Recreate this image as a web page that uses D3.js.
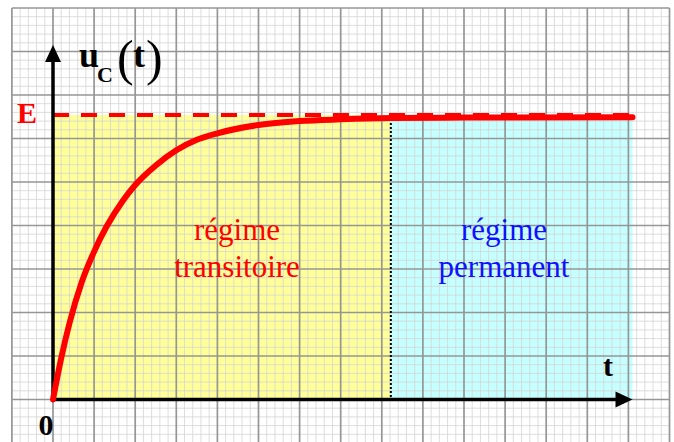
<!DOCTYPE html>
<html>
<head>
<meta charset="utf-8">
<script src="https://cdn.jsdelivr.net/npm/d3@7"></script>
<style>
  body { margin: 0; background: #fff; }
  svg { display: block; }
  text { font-family: "Liberation Serif", "DejaVu Serif", serif; }
</style>
</head>
<body>
<div id="chart"></div>
<script>
/*********************************
   CAPACITOR CHARGE u_C(t) DATA
 *********************************/

// Curve Samples (t & u in major grid divisions)
let timeValues = [0, 0.2, 0.4, 0.7, 1.0, 1.3, 1.7, 2.0, 2.5, 3.0, 3.5, 4.0, 5.0, 6.0, 7.0, 8.22, 10.0, 14.1];
let ucValues   = [0, 0.95, 1.75, 2.7, 3.4, 3.97, 4.57, 4.93, 5.38, 5.73, 5.97, 6.12, 6.31, 6.40, 6.44, 6.47, 6.48, 6.49];

// Levels & Limits (grid divisions)
let eLevel = 6.54;
let splitTime = 8.22, endTime = 14.1;
let yArrowTop = 8.15;

// Region Labels
let regionNames = ["transitoire", "permanent"];
let regionColors = ["#ff0000", "#1010ff"];

/*********************************
   DRAW CHART
 *********************************/

let w = 674, h = 442;
let svg = d3.select("#chart").append("svg").attr("width", w).attr("height", h);

// Scales (one unit = one major grid square)
let x = d3.scaleLinear().domain([-1, 15]).range([11.9, 669.5]);
let y = d3.scaleLinear().domain([0, 9]).range([399.5, 8]);
let gridLeft = x(-1), gridRight = x(15), gridTop = y(9), gridBottom = h;

// Background Regions
svg.append("rect").attr("x", x(0)).attr("y", y(eLevel)).attr("width", x(splitTime) - x(0)).attr("height", y(0) - y(eLevel)).style("fill", "#ffff99");
svg.append("rect").attr("x", x(splitTime)).attr("y", y(eLevel)).attr("width", x(endTime) - x(splitTime)).attr("height", y(0) - y(eLevel)).style("fill", "#c6ffff");

// Graph Paper Grid
let minorX = d3.range(-5, 76).map((d) => d / 5), minorY = d3.range(-5, 46).map((d) => d / 5);
let grid = svg.append("g");
grid.selectAll("line.vminor").data(minorX.filter((d) => Math.round(d * 5) % 5 != 0)).enter().append("line")
  .attr("x1", (d) => x(d)).attr("x2", (d) => x(d)).attr("y1", gridTop).attr("y2", gridBottom)
  .style("stroke", "#d4d4d4").style("stroke-width", 0.8);
grid.selectAll("line.hminor").data(minorY.filter((d) => Math.round(d * 5) % 5 != 0)).enter().append("line")
  .attr("x1", gridLeft).attr("x2", gridRight).attr("y1", (d) => y(d)).attr("y2", (d) => y(d))
  .style("stroke", "#d4d4d4").style("stroke-width", 0.8);
grid.selectAll("line.vmajor").data(d3.range(-1, 16)).enter().append("line")
  .attr("x1", (d) => x(d)).attr("x2", (d) => x(d)).attr("y1", gridTop).attr("y2", gridBottom)
  .style("stroke", "#969696").style("stroke-width", 1.7);
grid.selectAll("line.hmajor").data(d3.range(-1, 10)).enter().append("line")
  .attr("x1", gridLeft).attr("x2", gridRight).attr("y1", (d) => y(d)).attr("y2", (d) => y(d))
  .style("stroke", "#969696").style("stroke-width", 1.7);

// Dotted Split Between Regimes
svg.append("line").attr("x1", x(splitTime)).attr("x2", x(splitTime)).attr("y1", y(eLevel)).attr("y2", y(0))
  .style("stroke", "#000").style("stroke-width", 2).style("stroke-dasharray", "2,2");

// Asymptote E (dashed)
svg.append("line").attr("x1", x(0)).attr("x2", x(endTime)).attr("y1", y(eLevel)).attr("y2", y(eLevel))
  .style("stroke", "#ff0000").style("stroke-width", 4).style("stroke-dasharray", "16,12");

// Axes With Arrow Heads
svg.append("line").attr("x1", x(0)).attr("x2", x(0)).attr("y1", y(0) + 1.5).attr("y2", y(yArrowTop) + 12)
  .style("stroke", "#000").style("stroke-width", 3.5);
svg.append("line").attr("x1", x(0) - 1.5).attr("x2", x(endTime) - 12).attr("y1", y(0)).attr("y2", y(0))
  .style("stroke", "#000").style("stroke-width", 3.5);
let ax = x(0), ay = y(yArrowTop);
svg.append("path").attr("d", "M" + ax + "," + ay + "L" + (ax - 8) + "," + (ay + 17) + "L" + (ax + 8) + "," + (ay + 17) + "Z").style("fill", "#000");
let bx = x(endTime), by = y(0);
svg.append("path").attr("d", "M" + bx + "," + by + "L" + (bx - 17) + "," + (by - 8) + "L" + (bx - 17) + "," + (by + 8) + "Z").style("fill", "#000");

// Charging Curve
let line = d3.line().x((d, i) => x(timeValues[i])).y((d) => y(d)).curve(d3.curveMonotoneX);
svg.append("path").attr("d", line(ucValues))
  .style("fill", "none").style("stroke", "#ff0000").style("stroke-width", 6).style("stroke-linecap", "round");

// Axis Labels
svg.append("text").attr("x", 17).attr("y", y(eLevel) + 8).text("E")
  .style("fill", "#ff0000").style("font-weight", "bold").style("font-size", "30px");
svg.append("text").attr("x", x(0) - 7).attr("y", 435).attr("text-anchor", "middle").text("0")
  .style("font-weight", "bold").style("font-size", "30px");
svg.append("text").attr("x", 608).attr("y", 376).attr("text-anchor", "middle").text("t")
  .style("font-weight", "bold").style("font-size", "30px");

// u_C(t) Title
svg.append("text").attr("x", 79).attr("y", 67).text("u").style("font-weight", "bold").style("font-size", "36px");
svg.append("text").attr("x", 97).attr("y", 82).text("C").style("font-weight", "bold").style("font-size", "22px");
svg.append("text").attr("x", 117).attr("y", 75).text("(").style("font-size", "50px");
svg.append("text").attr("x", 133).attr("y", 67).text("t").style("font-weight", "bold").style("font-size", "36px");
svg.append("text").attr("x", 146).attr("y", 75).text(")").style("font-size", "50px");

// Region Labels
let centers = [237, 504];
regionNames.forEach((name, i) => {
  svg.append("text").attr("x", centers[i]).attr("y", 240).attr("text-anchor", "middle").text("régime")
    .style("fill", regionColors[i]).style("font-size", "31px");
  svg.append("text").attr("x", centers[i]).attr("y", 277).attr("text-anchor", "middle").text(name)
    .style("fill", regionColors[i]).style("font-size", "31px");
});
</script>
</body>
</html>
